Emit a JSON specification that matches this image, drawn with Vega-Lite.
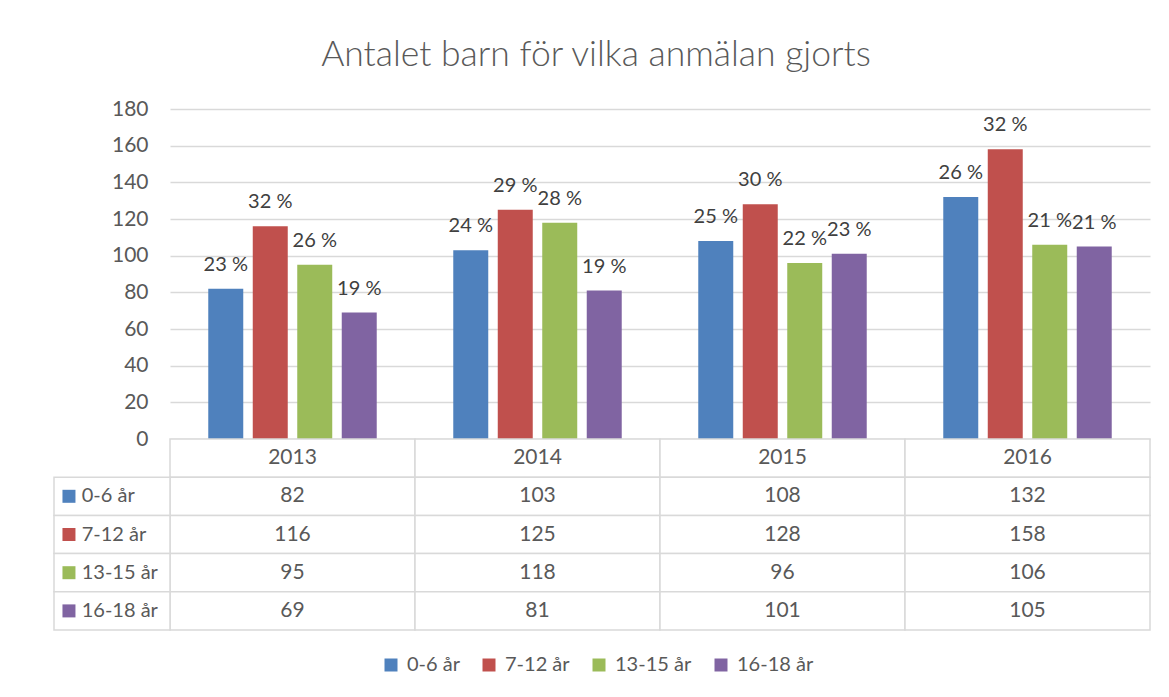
{
  "$schema": "https://vega.github.io/schema/vega-lite/v6.json",
  "width": 980,
  "height": 521,
  "padding": {"left": 53, "top": 37, "right": 20, "bottom": 5},
  "background": "white",
  "title": {"text": "Antalet barn för vilka anmälan gjorts", "font": "Lato", "fontSize": 35.5, "fontWeight": 300, "color": "#595959", "anchor": "middle", "frame": "bounds", "offset": 25, "dx": -6},
  "config": {
    "view": {"stroke": null},
    "font": "Lato"
  },
  "datasets": {
    "main": [
      {"year": "2013", "group": "0-6 år", "value": 82, "pct": "23 %"},
      {"year": "2013", "group": "7-12 år", "value": 116, "pct": "32 %"},
      {"year": "2013", "group": "13-15 år", "value": 95, "pct": "26 %"},
      {"year": "2013", "group": "16-18 år", "value": 69, "pct": "19 %"},
      {"year": "2014", "group": "0-6 år", "value": 103, "pct": "24 %"},
      {"year": "2014", "group": "7-12 år", "value": 125, "pct": "29 %"},
      {"year": "2014", "group": "13-15 år", "value": 118, "pct": "28 %"},
      {"year": "2014", "group": "16-18 år", "value": 81, "pct": "19 %"},
      {"year": "2015", "group": "0-6 år", "value": 108, "pct": "25 %"},
      {"year": "2015", "group": "7-12 år", "value": 128, "pct": "30 %"},
      {"year": "2015", "group": "13-15 år", "value": 96, "pct": "22 %"},
      {"year": "2015", "group": "16-18 år", "value": 101, "pct": "23 %"},
      {"year": "2016", "group": "0-6 år", "value": 132, "pct": "26 %"},
      {"year": "2016", "group": "7-12 år", "value": 158, "pct": "32 %"},
      {"year": "2016", "group": "13-15 år", "value": 106, "pct": "21 %"},
      {"year": "2016", "group": "16-18 år", "value": 105, "pct": "21 %"}
    ],
    "years": [
      {"year": "2013"}, {"year": "2014"}, {"year": "2015"}, {"year": "2016"}
    ],
    "groups": [
      {"group": "0-6 år"}, {"group": "7-12 år"}, {"group": "13-15 år"}, {"group": "16-18 år"}
    ]
  },
  "layer": [
    {
      "data": {"name": "main"},
      "encoding": {
        "x": {"field": "year", "type": "nominal", "scale": {"paddingInner": 0, "paddingOuter": 0}, "axis": null},
        "xOffset": {"field": "group", "type": "nominal", "sort": ["0-6 år", "7-12 år", "13-15 år", "16-18 år"], "scale": {"paddingInner": 0.2135, "paddingOuter": 0.86}},
        "y": {"field": "value", "type": "quantitative",
          "scale": {"domain": [0, 180], "range": [330, 0], "nice": false},
          "axis": {"title": null, "values": [0, 20, 40, 60, 80, 100, 120, 140, 160, 180], "domain": false, "ticks": false, "labelPadding": 22, "labelFont": "Lato", "labelFontSize": 21, "labelColor": "#595959", "grid": true, "gridColor": "#d9d9d9", "gridWidth": 1.3}}
      },
      "layer": [
        {
          "mark": {"type": "bar"},
          "encoding": {
            "color": {"field": "group", "type": "nominal", "title": null,
              "scale": {"domain": ["0-6 år", "7-12 år", "13-15 år", "16-18 år"], "range": ["#4f81bd", "#c0504d", "#9bbb59", "#8064a2"]},
              "legend": {"orient": "none", "legendX": 211, "legendY": 546, "direction": "horizontal", "symbolType": "square", "symbolSize": 169, "symbolStrokeWidth": 0, "labelFont": "Lato", "labelFontSize": 20, "labelColor": "#595959", "columnPadding": 19, "labelOffset": 6}}
          }
        },
        {
          "mark": {"type": "text", "baseline": "alphabetic", "dy": -18, "fontSize": 20, "font": "Lato", "color": "#404040"},
          "encoding": {"text": {"field": "pct"}}
        }
      ]
    },
    {
      "layer": [
        {
          "layer": [
            {
              "data": {"name": "years"},
              "mark": {"type": "rect", "fill": "white", "stroke": "#d9d9d9", "strokeWidth": 1.5},
              "encoding": {
                "x": {"field": "year", "type": "nominal", "scale": {"paddingInner": 0, "paddingOuter": 0}, "axis": null},
                "y": {"datum": "hdr", "type": "nominal", "scale": {"type": "band", "domain": ["hdr", "0-6 år", "7-12 år", "13-15 år", "16-18 år"], "range": [330, 521], "paddingInner": 0, "paddingOuter": 0}, "axis": null}
              }
            },
            {
              "data": {"name": "years"},
              "mark": {"type": "text", "fontSize": 21, "font": "Lato", "color": "#595959", "baseline": "middle"},
              "encoding": {
                "x": {"field": "year", "type": "nominal"},
                "y": {"datum": "hdr", "type": "nominal"},
                "text": {"field": "year"}
              }
            },
            {
              "data": {"name": "main"},
              "mark": {"type": "rect", "fill": "white", "stroke": "#d9d9d9", "strokeWidth": 1.5},
              "encoding": {
                "x": {"field": "year", "type": "nominal"},
                "y": {"field": "group", "type": "nominal"}
              }
            },
            {
              "data": {"name": "main"},
              "mark": {"type": "text", "fontSize": 21, "font": "Lato", "color": "#595959", "baseline": "middle"},
              "encoding": {
                "x": {"field": "year", "type": "nominal"},
                "y": {"field": "group", "type": "nominal"},
                "text": {"field": "value"}
              }
            }
          ]
        },
        {
          "data": {"name": "groups"},
          "layer": [
            {
              "mark": {"type": "rect", "fill": "white", "stroke": "#d9d9d9", "strokeWidth": 1.5},
              "encoding": {
                "x": {"datum": "lbl", "type": "nominal", "scale": {"type": "band", "domain": ["lbl"], "range": [-116, 0], "paddingInner": 0, "paddingOuter": 0}, "axis": null},
                "y": {"field": "group", "type": "nominal", "scale": {"type": "band", "domain": ["hdr", "0-6 år", "7-12 år", "13-15 år", "16-18 år"], "range": [330, 521], "paddingInner": 0, "paddingOuter": 0}, "axis": null}
              }
            },
            {
              "mark": {"type": "point", "shape": "square", "filled": true, "size": 169, "opacity": 1},
              "encoding": {
                "x": {"datum": "lbl", "type": "nominal", "bandPosition": 0.129},
                "y": {"field": "group", "type": "nominal"},
                "color": {"field": "group", "type": "nominal"}
              }
            },
            {
              "mark": {"type": "text", "align": "left", "baseline": "middle", "fontSize": 20, "font": "Lato", "color": "#595959"},
              "encoding": {
                "x": {"datum": "lbl", "type": "nominal", "bandPosition": 0.239},
                "y": {"field": "group", "type": "nominal"},
                "text": {"field": "group"}
              }
            }
          ]
        }
      ],
      "resolve": {"scale": {"x": "independent"}}
    }
  ],
  "resolve": {"scale": {"y": "independent", "x": "independent"}}
}
